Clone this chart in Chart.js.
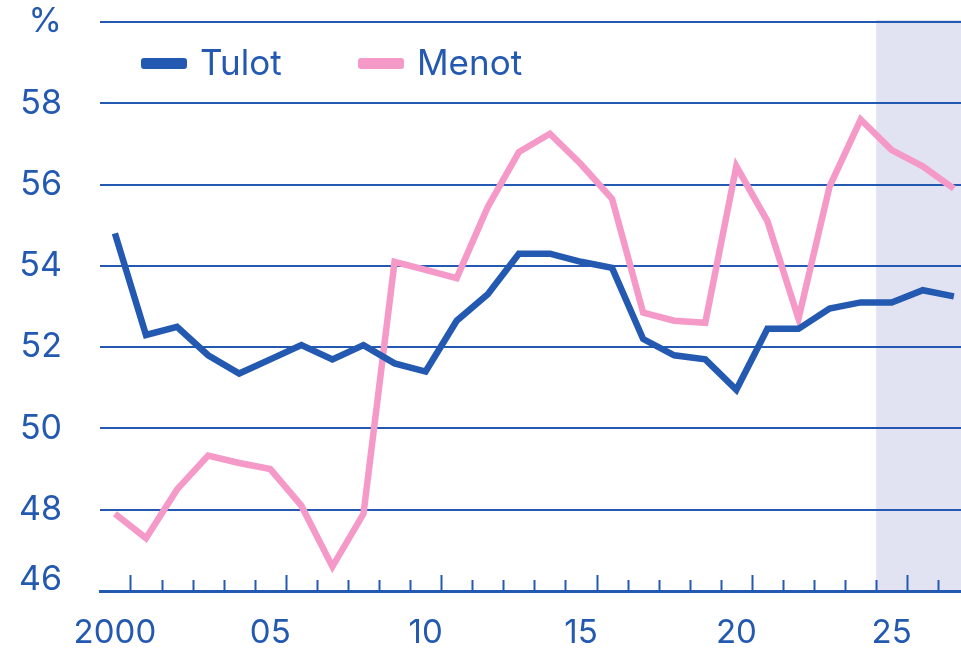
<!DOCTYPE html>
<html>
<head>
<meta charset="utf-8">
<script src="https://cdn.jsdelivr.net/npm/chart.js@4"></script>
<style>
  body { margin: 0; background: #fff; }
  #wrap { width: 961px; height: 654px; }
</style>
</head>
<body>
<div id="wrap"><canvas id="talous_chart"></canvas></div>
<script>
const years = [2000, 2001, 2002, 2003, 2004, 2005, 2006, 2007, 2008, 2009,
  2010, 2011, 2012, 2013, 2014, 2015, 2016, 2017, 2018, 2019,
  2020, 2021, 2022, 2023, 2024, 2025, 2026, 2027];
const tulot = [54.8, 52.3, 52.5, 51.8, 51.35, 51.7, 52.05, 51.7, 52.05, 51.6,
  51.4, 52.65, 53.3, 54.3, 54.3, 54.1, 53.95, 52.2, 51.8, 51.7,
  50.95, 52.45, 52.45, 52.95, 53.1, 53.1, 53.4, 53.25];
const menot = [47.9, 47.3, 48.5, 49.33, 49.15, 49.0, 48.1, 46.6, 47.9, 54.1,
  53.9, 53.7, 55.45, 56.8, 57.25, 56.5, 55.65, 52.85, 52.65, 52.6,
  56.45, 55.1, 52.7, 55.95, 57.6, 56.85, 56.45, 55.9];
const yTicks = [46, 48, 50, 52, 54, 56, 58, 60];
const xLabelYears = [2000, 2005, 2010, 2015, 2020, 2025];
const tickYears = years.slice(0, -1).map(y => y + 0.5);
const forecastStart = 2024.5;

const sininen = '#2359b0';
const pinkki = '#f59ac8';
const varjo = '#e1e3f3';
const fontti = "Inter, Roboto, sans-serif";

// tausta ennustejaksolle, piirretaan ennen ruudukkoa
const ennusteTausta = {
  id: 'ennusteTausta',
  beforeDraw(chart) {
    const ctx = chart.ctx;
    const a = chart.chartArea;
    const x0 = chart.scales.x.getPixelForValue(forecastStart);
    ctx.save();
    ctx.fillStyle = varjo;
    ctx.fillRect(x0, a.top - 2, a.right - x0, a.bottom - a.top + 2);
    ctx.restore();
  }
};

// x-akselin tikit vuosien valissa, legenda ja 46-teksti
const lisat = {
  id: 'lisat',
  afterDraw(chart) {
    const ctx = chart.ctx;
    const a = chart.chartArea;
    const xs = chart.scales.x;
    const ys = chart.scales.y;
    ctx.save();
    ctx.strokeStyle = sininen;
    ctx.lineWidth = 2;
    tickYears.forEach(t => {
      const px = Math.round(xs.getPixelForValue(t)) + 0.5;
      const pitka = (t - 0.5) % 5 === 0;
      ctx.beginPath();
      ctx.moveTo(px, a.bottom);
      ctx.lineTo(px, a.bottom - (pitka ? 16 : 11));
      ctx.stroke();
    });

    ctx.fillStyle = sininen;
    ctx.font = '34px ' + fontti;
    ctx.textAlign = 'right';
    ctx.textBaseline = 'middle';
    ctx.fillText('46', a.left - 38, ys.getPixelForValue(46) - 11);

    const sarjat = [
      {label: chart.data.datasets[0].label, color: sininen, x: 141},
      {label: chart.data.datasets[1].label, color: pinkki, x: 358}
    ];
    ctx.textAlign = 'left';
    ctx.font = '35px ' + fontti;
    sarjat.forEach(s => {
      ctx.fillStyle = s.color;
      ctx.beginPath();
      ctx.roundRect(s.x, 58, 46, 11, 3);
      ctx.fill();
      ctx.fillStyle = sininen;
      ctx.fillText(s.label, s.x + 59, 64);
    });
    ctx.restore();
  }
};

const ctx = document.getElementById('talous_chart').getContext('2d');
const talousChart = new Chart(ctx, {
  type: 'line',
  data: {
    datasets: [
      {
        label: 'Tulot',
        data: years.map((y, i) => ({x: y, y: tulot[i]})),
        borderColor: sininen,
        borderWidth: 6.5,
        pointRadius: 0,
        tension: 0
      },
      {
        label: 'Menot',
        data: years.map((y, i) => ({x: y, y: menot[i]})),
        borderColor: pinkki,
        borderWidth: 6.5,
        pointRadius: 0,
        tension: 0
      }
    ]
  },
  options: {
    responsive: true,
    maintainAspectRatio: false,
    animation: false,
    layout: {padding: {top: 22, right: 0, left: 0, bottom: 0}},
    plugins: {
      legend: {display: false},
      tooltip: {enabled: false}
    },
    scales: {
      x: {
        type: 'linear',
        min: 1999.52,
        max: 2027.23,
        afterBuildTicks(scale) {
          scale.ticks = xLabelYears.map(v => ({value: v}));
        },
        afterFit(scale) {
          scale.height = 63;
          scale.paddingLeft = 0;
          scale.paddingRight = 0;
        },
        grid: {drawOnChartArea: false, drawTicks: false},
        border: {display: true, color: sininen, width: 3},
        ticks: {
          autoSkip: false,
          maxRotation: 0,
          padding: 22,
          color: sininen,
          font: {family: fontti, size: 33},
          callback: v => v === 2000 ? '2000' : String(v % 100).padStart(2, '0')
        }
      },
      y: {
        min: 46,
        max: 60,
        afterBuildTicks(scale) {
          scale.ticks = yTicks.map(v => ({value: v}));
        },
        afterFit(scale) {
          scale.width = 100;
          scale.paddingTop = 0;
          scale.paddingBottom = 0;
        },
        grid: {
          color: c => c.tick && c.tick.value === 46 ? 'rgba(0,0,0,0)' : sininen,
          lineWidth: 2,
          drawTicks: false
        },
        border: {display: false},
        ticks: {
          padding: 38,
          color: sininen,
          font: {family: fontti, size: 34},
          callback: v => v === 60 ? '%' : (v === 46 ? '' : String(v))
        }
      }
    }
  },
  plugins: [ennusteTausta, lisat]
});
</script>
</body>
</html>
